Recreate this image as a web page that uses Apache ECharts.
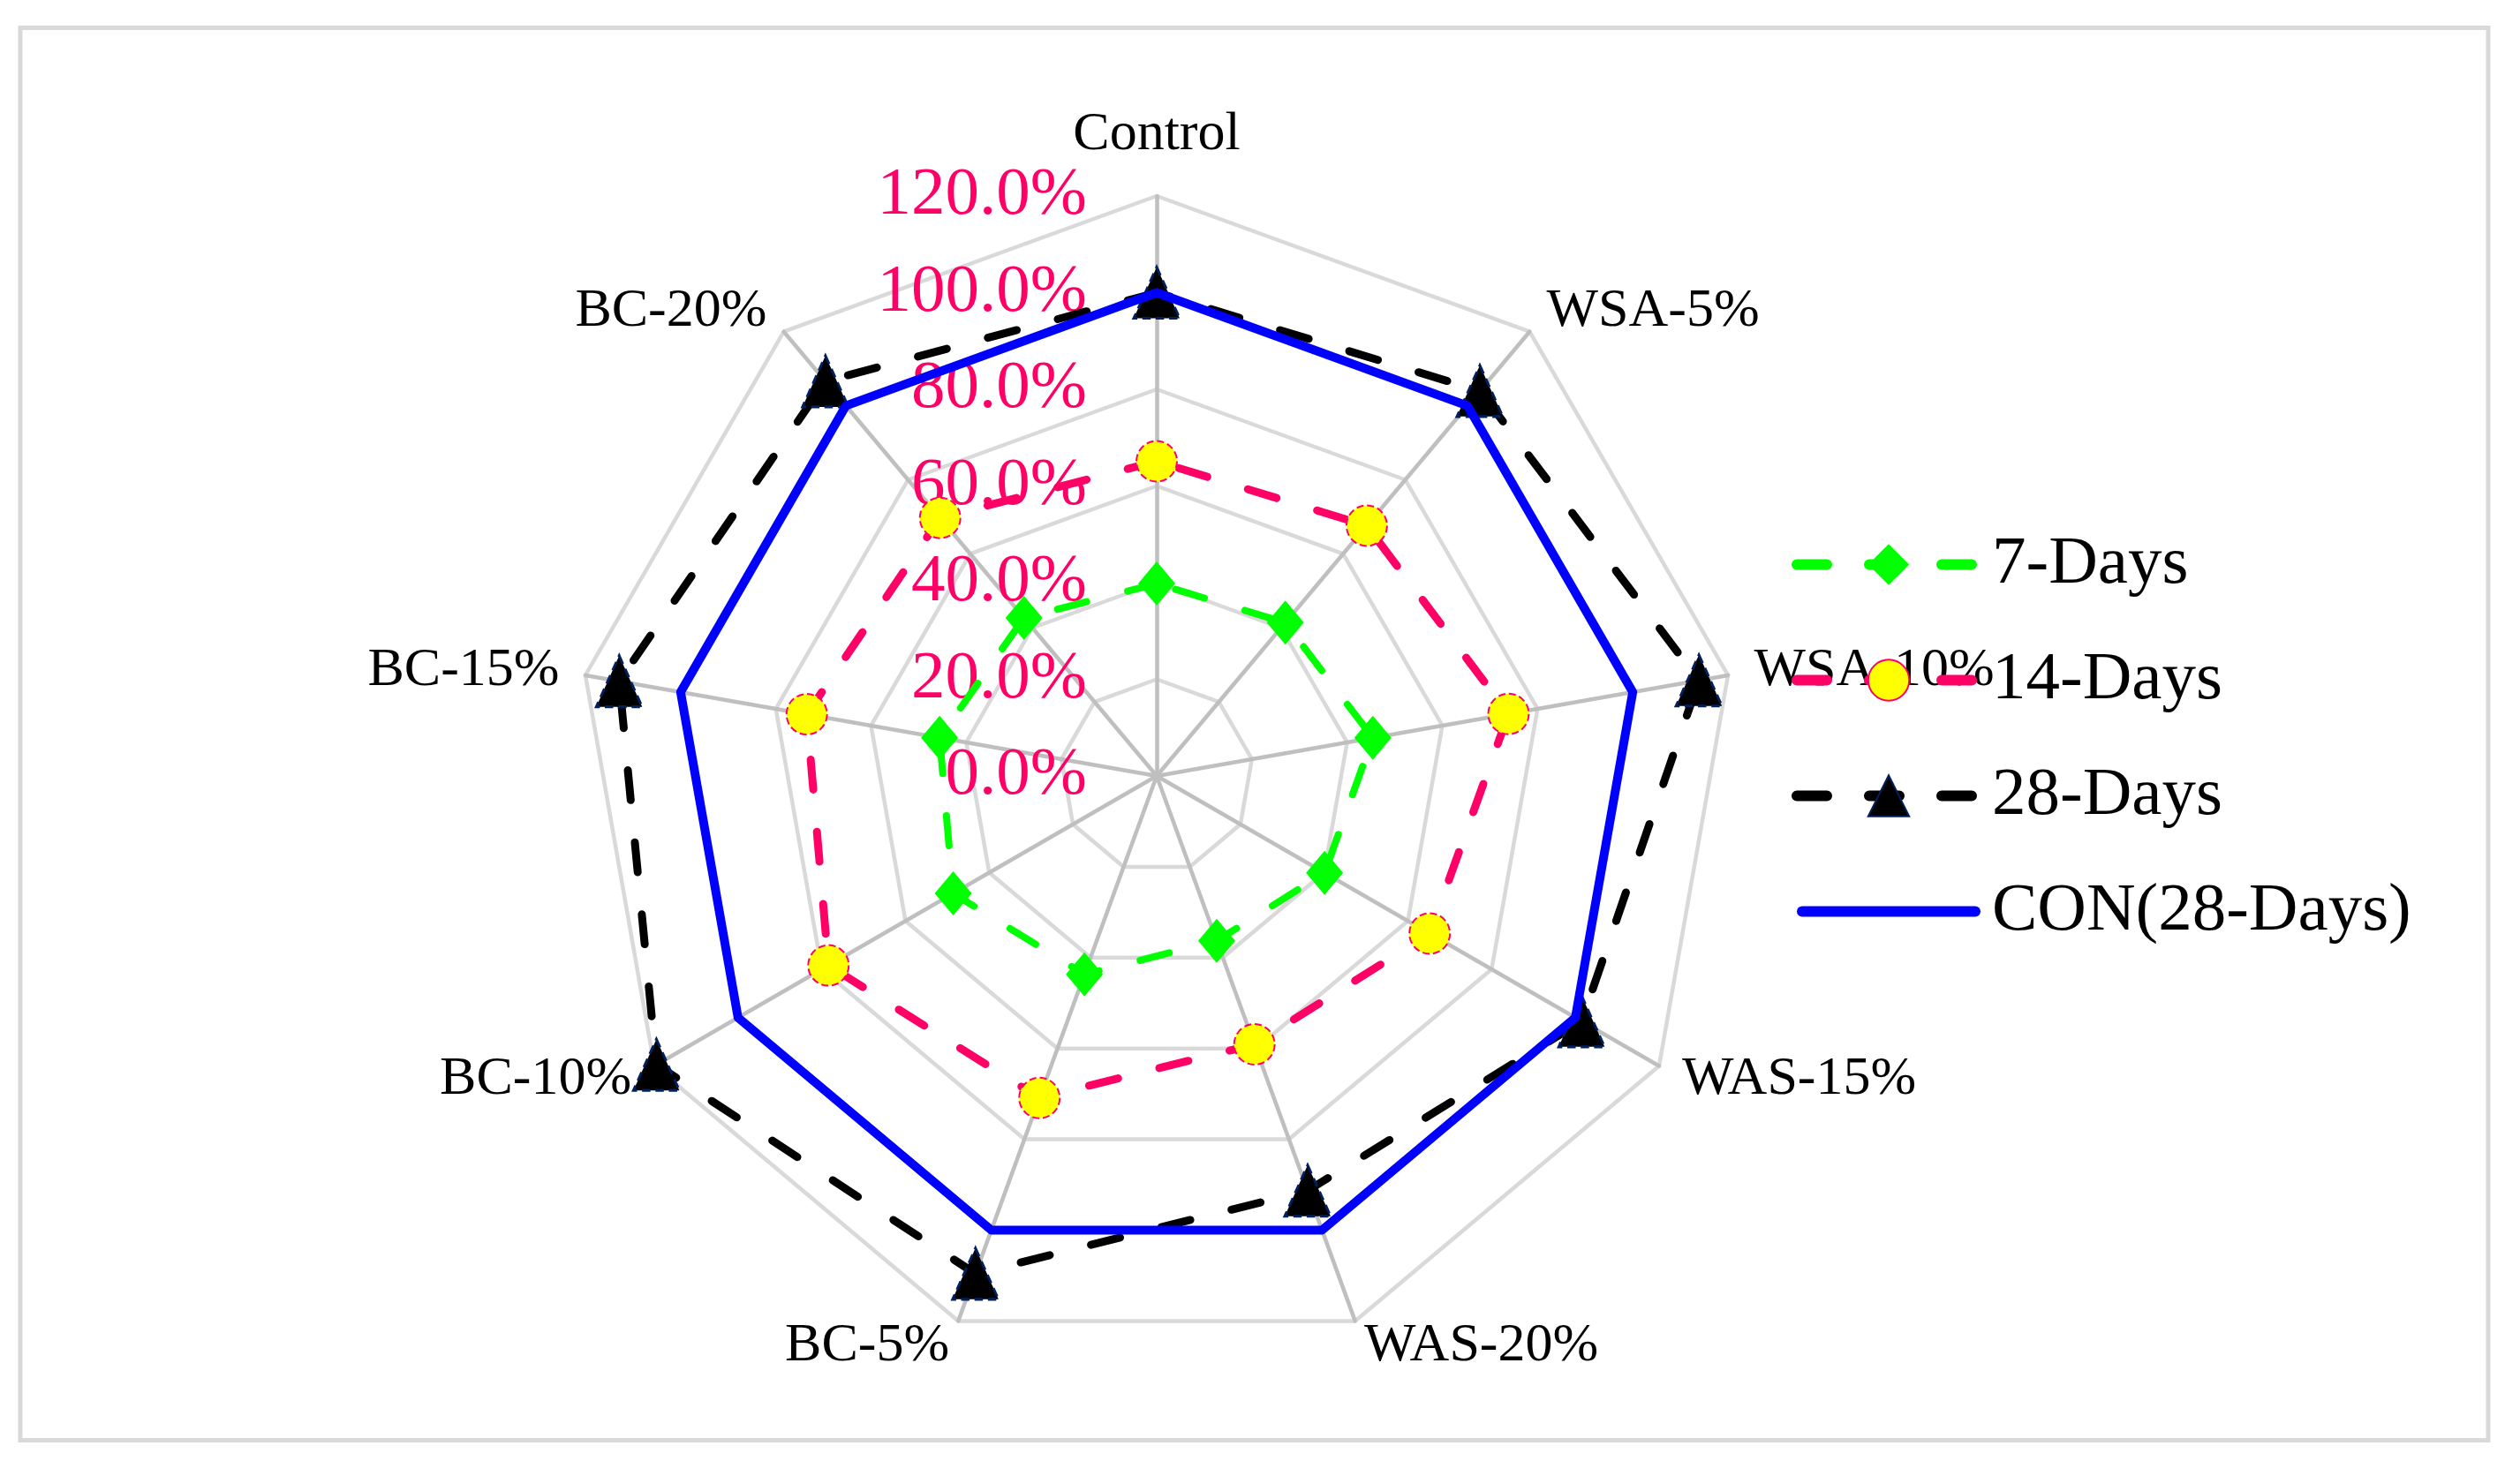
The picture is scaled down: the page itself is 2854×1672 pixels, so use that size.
<!DOCTYPE html>
<html>
<head>
<meta charset="utf-8">
<script src="https://cdn.jsdelivr.net/npm/echarts@6/dist/echarts.min.js"></script>
<style>
html,body{margin:0;padding:0;background:#ffffff;}
#chart{width:2854px;height:1672px;}
</style>
</head>
<body>
<div id="chart"></div>
<script>
// ---------- data (clockwise from top, as in the picture) ----------
const categories = ['Control', 'WSA-5%', 'WSA-10%', 'WAS-15%', 'WAS-20%', 'BC-5%', 'BC-10%', 'BC-15%', 'BC-20%'];
const days7  = [39.8, 41.4, 45.4, 40.1, 36.3, 43.7, 48.6, 45.6, 42.7];
const days14 = [65.1, 67.6, 73.9, 65.2, 59.1, 70.9, 78.4, 73.5, 69.7];
const days28 = [100.0, 104.0, 113.9, 101.5, 91.3, 109.6, 119.5, 112.9, 106.6];
const con28  = [100, 100, 100, 100, 100, 100, 100, 100, 100];
const seriesNames = ['7-Days', '14-Days', '28-Days', 'CON(28-Days)'];
const axisMin = 0, axisMax = 120, axisSplits = 6;

// ECharts places radar indicators counter-clockwise; reorder so they read clockwise
const order = [0].concat(categories.map((_, i) => i).slice(1).reverse());
const reorder = arr => order.map(i => arr[i]);

const FONT = "'Liberation Serif', 'Times New Roman', serif";
const PINK = '#FF0066';

const indicators = reorder(categories).map((name, i) => {
  const ind = { name: name, min: axisMin, max: axisMax };
  if (i === 0) {
    ind.axisLabel = {
      show: true, color: PINK, fontFamily: FONT, fontSize: 77, margin: 79,
      formatter: v => Number(v).toFixed(1) + '%'
    };
  }
  return ind;
});

const dashStyle = [34, 48];
const styles = [
  { symbol: 'diamond', symbolSize: [42, 50],
    lineStyle: { color: '#00FF00', width: 8, type: dashStyle, cap: 'round' },
    itemStyle: { color: '#00FF00' } },
  { symbol: 'circle', symbolSize: 46,
    lineStyle: { color: PINK, width: 9, type: dashStyle, cap: 'round' },
    itemStyle: { color: '#FFFF00', borderColor: PINK, borderWidth: 2, borderType: 'dashed' } },
  { symbol: 'triangle', symbolSize: [52, 58],
    lineStyle: { color: '#000000', width: 9, type: dashStyle, cap: 'round' },
    itemStyle: { color: '#000000', borderColor: '#002060', borderWidth: 3, borderType: [10, 6] } },
  { symbol: 'none', symbolSize: 0,
    lineStyle: { color: '#0000FF', width: 10, type: 'solid', cap: 'round' },
    itemStyle: { color: '#0000FF' } }
];
const values = [days7, days14, days28, con28];

// legend-only line series (no data) so the legend shows line + marker icons
const legendSeries = seriesNames.map((n, k) => ({
  type: 'line', name: n, data: [], xAxisIndex: 0, yAxisIndex: 0,
  symbol: styles[k].symbol,
  lineStyle: styles[k].lineStyle, itemStyle: styles[k].itemStyle,
  silent: true
}));

const radarSeries = seriesNames.map((n, k) => ({
  type: 'radar', name: n,
  symbol: styles[k].symbol, symbolSize: styles[k].symbolSize,
  lineStyle: styles[k].lineStyle, itemStyle: styles[k].itemStyle,
  z: 2 + k,
  data: [{ name: n, value: reorder(values[k]) }]
}));

const legendData = seriesNames.map((n, k) => {
  if (styles[k].symbol === 'none') {
    return { name: n, icon: 'path://M6,0H202A6,6 0 0 1 202,12H6A6,6 0 0 1 6,0Z', itemStyle: { color: styles[k].lineStyle.color } };
  }
  return { name: n, lineStyle: { width: 12, type: dashStyle, cap: 'round' } };
});

const chart = echarts.init(document.getElementById('chart'), null, { renderer: 'canvas' });
chart.setOption({
  animation: false,
  backgroundColor: '#ffffff',
  graphic: [{
    type: 'rect', z: -10, silent: true,
    shape: { x: 23, y: 31.5, width: 2795, height: 1600 },
    style: { fill: 'none', stroke: '#D9D9D9', lineWidth: 5 }
  }],
  grid: { show: false, left: 0, top: 0, width: 10, height: 10 },
  xAxis: { type: 'category', show: false, data: [] },
  yAxis: { type: 'value', show: false },
  legend: {
    orient: 'vertical', left: 2024, top: 596,
    itemWidth: 208, itemHeight: 58, itemGap: 54,
    data: legendData,
    textStyle: { fontFamily: FONT, fontSize: 77, color: '#000000', padding: [0, 0, 0, 8] }
  },
  radar: {
    center: [1310, 879], radius: 657, startAngle: 90,
    splitNumber: axisSplits, shape: 'polygon',
    nameGap: 30,
    axisName: {
      color: '#000000', fontFamily: FONT, fontSize: 62,
      formatter: n => n === categories[0] ? '{top|' + n + '}' : n,
      rich: { top: { color: '#000000', fontFamily: FONT, fontSize: 62, lineHeight: 36 } }
    },
    axisLine: { lineStyle: { color: '#BFBFBF', width: 4.5 } },
    splitLine: { lineStyle: { color: '#D9D9D9', width: 4.5 } },
    splitArea: { show: false },
    axisTick: { show: false },
    axisLabel: { show: false },
    indicator: indicators
  },
  series: legendSeries.concat(radarSeries)
});
</script>
</body>
</html>
